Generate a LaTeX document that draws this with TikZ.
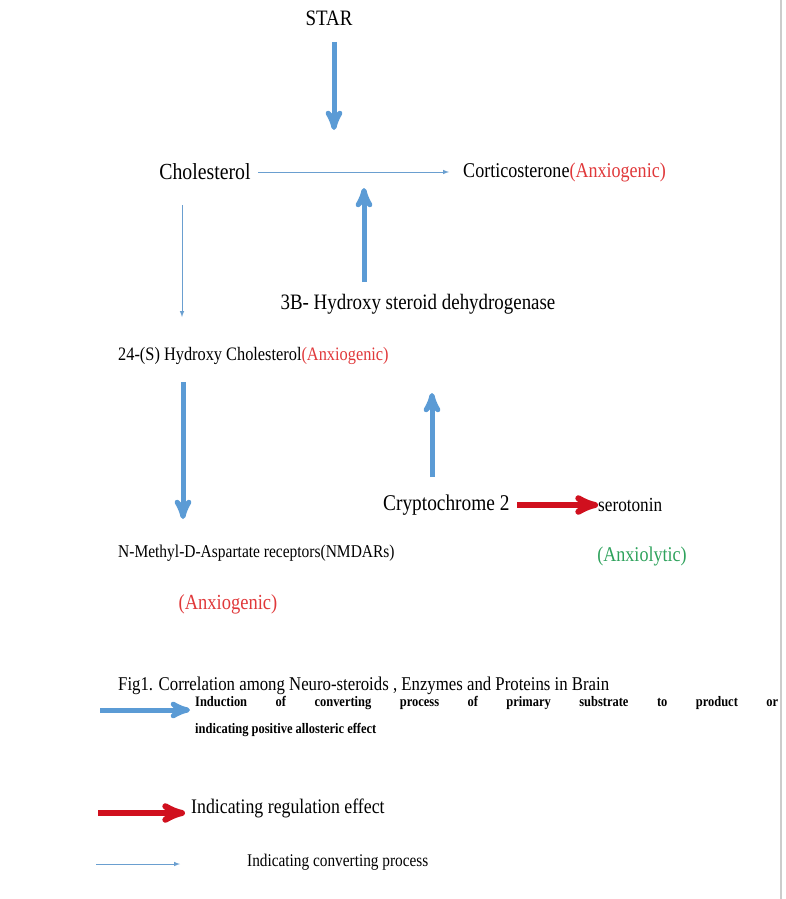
\documentclass[tikz,border=0pt]{standalone}
\usepackage{fontspec}
\setmainfont{Liberation Serif}[FakeStretch=0.86]
\usetikzlibrary{arrows,positioning}
\definecolor{thickblue}{HTML}{5B9BD5}
\definecolor{thinblue}{HTML}{6A9FD0}
\definecolor{regred}{HTML}{D0101E}
\definecolor{txtred}{HTML}{E0383A}
\definecolor{txtgreen}{HTML}{2EA25C}
\tikzset{
  lbl/.style={inner sep=0pt,font=\fontsize{#1}{#1}\selectfont},
  lbl/.default=19,
  induce/.style={-stealth',line width=5pt,draw=thickblue},
  convert/.style={-latex,line width=1pt,draw=thinblue},
  regulate/.style={-stealth',line width=6pt,draw=regred}
}
\begin{document}
\begin{tikzpicture}[x=1pt,y=-1pt]
            \useasboundingbox (0,0) rectangle (786,899);
            \draw[gray!40,line width=1.5pt](781,0)--(781,899);
            \node[lbl=22](star)at(329, 18){STAR};
            \node[lbl=23](chol)at(205, 172){Cholesterol};
            \node[lbl=21,anchor=west](cort)at(463, 172){Corticosterone\textcolor{txtred}{(Anxiogenic)}};
            \node[lbl=22](hsd)at(418, 304){3B- Hydroxy steroid dehydrogenase};
            \node[lbl=19,anchor=west](hc)at(118, 356){24-(S) Hydroxy Cholesterol\textcolor{txtred}{(Anxiogenic)}};
            \node[lbl=22.5,anchor=west](cry)at(383, 505){Cryptochrome 2};
            \node[lbl=20,anchor=west](ser)at(598, 505){serotonin};
            \node[lbl=18,anchor=west](nmda)at(118, 553){N-Methyl-D-Aspartate receptors(NMDARs)};
            \node[lbl=21,text=txtgreen](lytic)at(642, 556){(Anxiolytic)};
            \node[lbl=21.5,text=txtred](genic)at(228, 604){(Anxiogenic)};
            \node[lbl=19.5,anchor=west](fig)at(118, 686){Fig1. Correlation among Neuro-steroids , Enzymes and Proteins in Brain};
            % legend
            \node[inner sep=0pt,anchor=west,align=left,font=\fontsize{14.5}{27}\selectfont\bfseries](l1)at(195, 716){\makebox[583pt][s]{Induction of converting process of primary substrate to product or}\\indicating positive allosteric effect};
            \node[lbl=20.7,anchor=west](l2)at(191, 808){Indicating regulation effect};
            \node[lbl=17.8,anchor=west](l3)at(247, 862){Indicating converting process};
            \coordinate(a1)at(100, 710);\coordinate(b1)at(190, 710);
            \coordinate(a2)at(98, 813);\coordinate(b2)at(185, 813);
            \coordinate(a3)at(96, 864);\coordinate(b3)at(180, 864);
            \coordinate(s1)at(334, 42);\coordinate(s2)at(334, 130);
            \coordinate(h1)at(364, 282);\coordinate(h2)at(364, 188);
            \coordinate(c1)at(258, 172);\coordinate(c2)at(449, 172);
            \coordinate(d1)at(182, 205);\coordinate(d2)at(182, 317);
            \coordinate(n1)at(183, 382);\coordinate(n2)at(183, 519);
            \coordinate(k1)at(432, 477);\coordinate(k2)at(432, 393);
            \coordinate(r1)at(517, 505);
            \draw[induce](s1)--(s2);
            \draw[induce](h1)--(h2);
            \draw[convert](c1)--(c2);
            \draw[convert](d1)--(d2);
            \draw[induce](n1)--(n2);
            \draw[induce](k1)--(k2);
            \draw[regulate](r1)--(ser.west);
            \draw[induce](a1)--(b1);
            \draw[regulate](a2)--(b2);
            \draw[convert](a3)--(b3);
        \end{tikzpicture}
\end{document}
